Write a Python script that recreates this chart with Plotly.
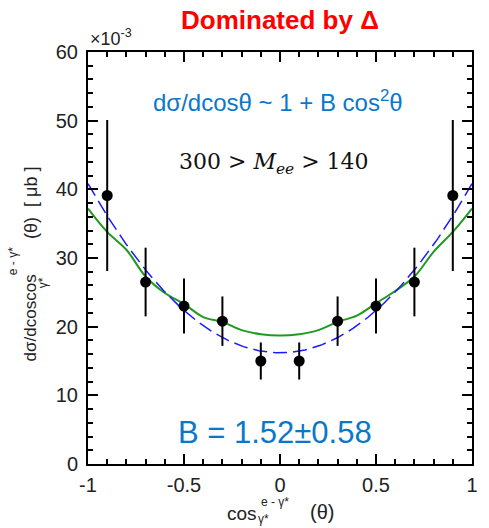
import numpy as np
import plotly.graph_objects as go

# Measured angular distribution (units of 1e-3 ub)
cos_theta = [-0.9, -0.7, -0.5, -0.3, -0.1, 0.1, 0.3, 0.5, 0.7, 0.9]
dsigma = [39.1, 26.5, 23.0, 20.8, 15.0, 15.0, 20.8, 23.0, 26.5, 39.1]
dsigma_err = [11.0, 5.0, 4.0, 3.6, 2.7, 2.7, 3.6, 4.0, 5.0, 11.0]

# Simulated (model) curve
model_x = [-1.0, -0.9, -0.8, -0.7, -0.6, -0.5, -0.4, -0.3, -0.2, -0.1, 0.0,
           0.1, 0.2, 0.3, 0.4, 0.5, 0.6, 0.7, 0.8, 0.9, 1.0]
model_y = [37.2, 33.8, 31.2, 27.3, 24.9, 23.3, 21.4, 20.7, 19.5, 18.9, 18.7,
           18.9, 19.5, 20.7, 21.6, 23.4, 25.2, 27.3, 30.9, 33.8, 37.2]

# Fit: A (1 + B cos^2 theta)
fit_A = 16.2
fit_B = 1.52
fit_B_err = 0.58

x_ticks = [-1, -0.5, 0, 0.5, 1]
x_tick_text = ["-1", "-0.5", "0", "0.5", "1"]
y_ticks = [0, 10, 20, 30, 40, 50, 60]

W, H = 489, 528
L, R, T, B = 88, 11, 52, 64
PW, PH = W - L - R, H - T - B


def px(x):
    return (x - L) / PW


def py(y):
    return (H - B - y) / PH


fit_x = np.linspace(-1, 1, 201)
fit_y = fit_A * (1 + fit_B * fit_x ** 2)

fig = go.Figure()
fig.add_trace(go.Scatter(x=model_x, y=model_y, mode="lines",
                         line=dict(color="#1f9a1f", width=2, shape="spline"),
                         showlegend=False))
fig.add_trace(go.Scatter(x=fit_x, y=fit_y, mode="lines",
                         line=dict(color="#1a1aff", width=1.5, dash="14px,6px"),
                         showlegend=False))
fig.add_trace(go.Scatter(x=cos_theta, y=dsigma, mode="markers",
                         marker=dict(color="black", size=11),
                         error_y=dict(type="data", array=dsigma_err, visible=True,
                                      color="black", thickness=2, width=0),
                         showlegend=False))

sans = "Liberation Sans, Arial, sans-serif"
axis_font = dict(family=sans, size=20, color="#222")
fig.update_xaxes(range=[-1, 1], tickvals=x_ticks, ticktext=x_tick_text,
                 ticks="inside", ticklen=10, tickwidth=1.5, tickcolor="black",
                 minor=dict(dtick=0.1, ticks="inside", ticklen=5, tickcolor="black"),
                 showline=True, linecolor="black", linewidth=2, mirror="allticks",
                 showgrid=False, zeroline=False, tickfont=axis_font,
                 ticklabelstandoff=2)
fig.update_yaxes(range=[0, 60], tickvals=y_ticks,
                 ticks="inside", ticklen=10, tickwidth=1.5, tickcolor="black",
                 minor=dict(dtick=2, ticks="inside", ticklen=5, tickcolor="black"),
                 showline=True, linecolor="black", linewidth=2, mirror="allticks",
                 showgrid=False, zeroline=False, tickfont=axis_font,
                 ticklabelstandoff=4)

blue = "#0a78c8"
ann = []
ann.append(dict(x=px(283), y=py(20), text="<b>Dominated by Δ</b>",
                font=dict(family=sans, size=26, color="#ff0000")))
ann.append(dict(x=px(88), y=py(51), text="×10<sup>-3</sup>", xanchor="left", yanchor="bottom",
                font=dict(family=sans, size=18, color="#222")))
ann.append(dict(x=px(281), y=py(101), text="dσ/dcosθ ~ 1 + B cos<sup>2</sup>θ",
                font=dict(family=sans, size=24, color=blue)))
ann.append(dict(x=px(277), y=py(163),
                text="300 > <i>M</i><sub><i>ee</i></sub> > 140",
                font=dict(family="DejaVu Serif, Liberation Serif, serif", size=22, color="#111")))
ann.append(dict(x=px(278), y=py(432), text=f"B = {fit_B:.2f}±{fit_B_err:.2f}",
                font=dict(family=sans, size=31, color=blue)))

# y-axis title pieces (rotated)
ann.append(dict(x=px(30), y=py(363), text="dσ/dcoscos", textangle=-90, yanchor="bottom",
                font=dict(family=sans, size=17, color="#222")))
ann.append(dict(x=px(12), y=py(277), text="e - γ*", textangle=-90, yanchor="bottom",
                font=dict(family=sans, size=12, color="#222")))
ann.append(dict(x=px(42), y=py(290), text="γ*", textangle=-90, yanchor="bottom",
                font=dict(family=sans, size=12, color="#222")))
ann.append(dict(x=px(30), y=py(241), text="(θ)  [ μb ]", textangle=-90, yanchor="bottom",
                font=dict(family=sans, size=18, color="#222")))

# x-axis title pieces
ann.append(dict(x=px(227), y=py(513), text="cos", xanchor="left",
                font=dict(family=sans, size=19, color="#222")))
ann.append(dict(x=px(262), y=py(502), text="e - γ*", xanchor="left",
                font=dict(family=sans, size=12, color="#222")))
ann.append(dict(x=px(259), y=py(519), text="γ*", xanchor="left",
                font=dict(family=sans, size=12, color="#222")))
ann.append(dict(x=px(311), y=py(512), text="(θ)", xanchor="left",
                font=dict(family=sans, size=20, color="#222")))

for a in ann:
    a.update(xref="paper", yref="paper", showarrow=False)
    a.setdefault("xanchor", "center")
    a.setdefault("yanchor", "middle")

fig.update_layout(width=W, height=H, margin=dict(l=L, r=R, t=T, b=B),
                  plot_bgcolor="white", paper_bgcolor="white",
                  annotations=ann)
fig.write_html("out.html")
